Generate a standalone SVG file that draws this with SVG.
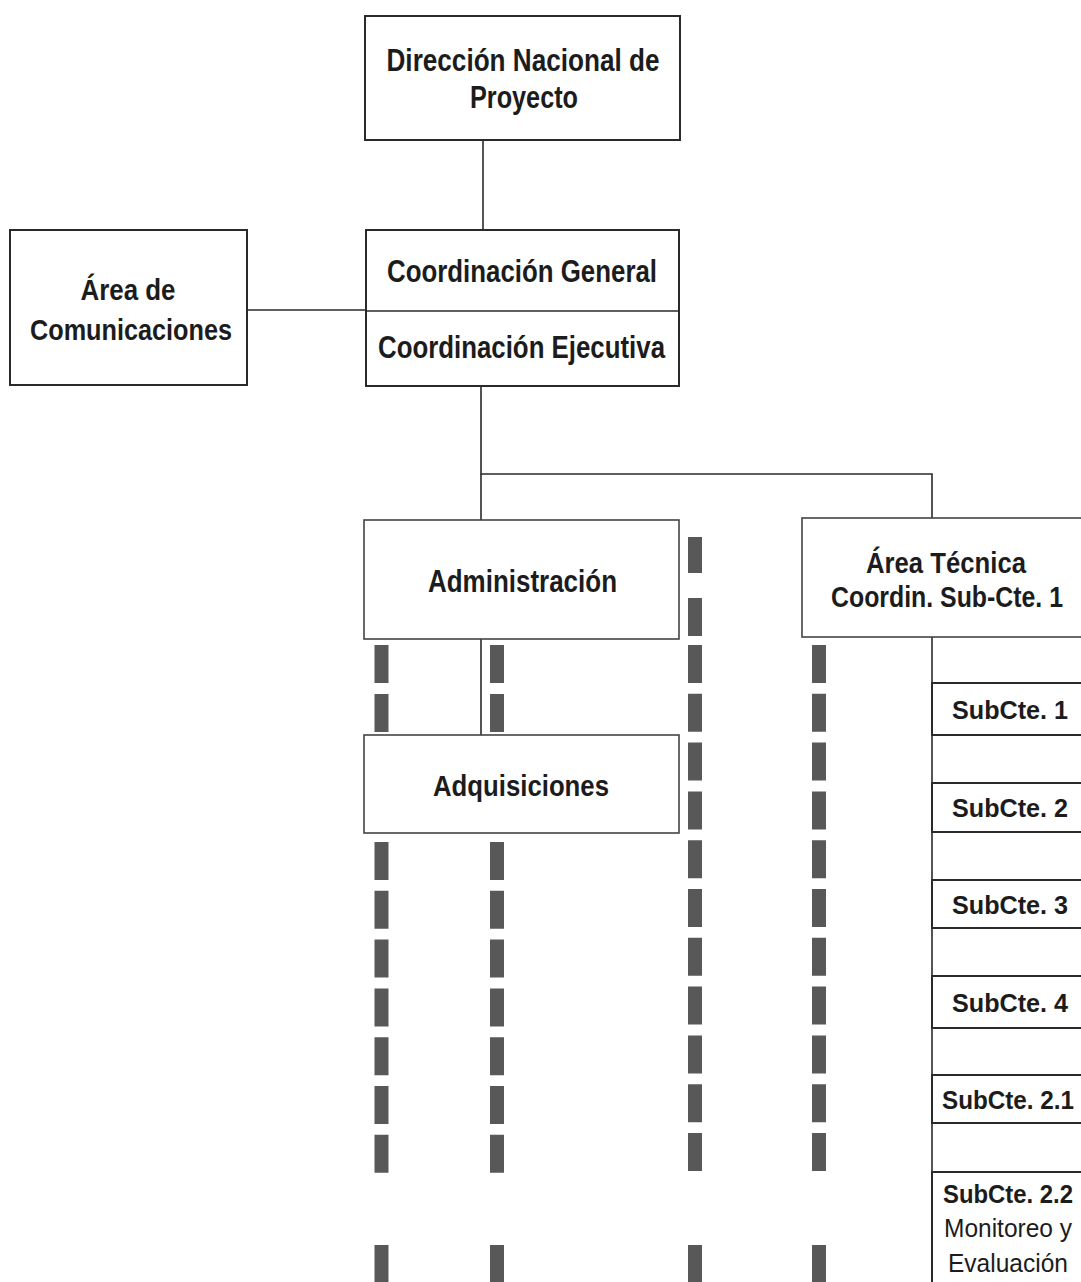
<svg xmlns="http://www.w3.org/2000/svg" width="1081" height="1282" viewBox="0 0 1081 1282">
<style>
.box{fill:#fff;stroke:#2a2a2a;stroke-width:2}
.lite{stroke:#444;stroke-width:1.6}
.t{font-family:"Liberation Sans",Arial,sans-serif;font-weight:bold;fill:#1c1c1c;text-anchor:middle}
.r{font-family:"Liberation Sans",Arial,sans-serif;font-weight:normal;fill:#1c1c1c;text-anchor:middle}
.c{stroke:#2a2a2a;stroke-width:1.6;fill:none}
.d{stroke:#585858;stroke-width:14;fill:none}
</style>
<rect width="1081" height="1282" fill="#fff"/>
<g id="connectors">
<line class="c" x1="483" y1="140" x2="483" y2="230"/>
<line class="c" x1="247" y1="310" x2="366" y2="310"/>
<polyline class="c" points="481,386 481,474 932,474 932,518"/>
<line class="c" x1="481" y1="474" x2="481" y2="520"/>
<line class="c" x1="481" y1="639" x2="481" y2="735"/>
<line class="c" x1="932" y1="637" x2="932" y2="1282"/>
</g>
<g id="dashed-columns">
<line class="d" x1="381.5" y1="645" x2="381.5" y2="733" stroke-dasharray="38 11"/>
<line class="d" x1="381.5" y1="842" x2="381.5" y2="1173" stroke-dasharray="38 10.8"/>
<line class="d" x1="381.5" y1="1245" x2="381.5" y2="1282"/>
<line class="d" x1="497" y1="645" x2="497" y2="733" stroke-dasharray="38 11"/>
<line class="d" x1="497" y1="842" x2="497" y2="1173" stroke-dasharray="38 10.8"/>
<line class="d" x1="497" y1="1245" x2="497" y2="1282"/>
<line class="d" x1="695" y1="537" x2="695" y2="573"/>
<line class="d" x1="695" y1="598" x2="695" y2="636"/>
<line class="d" x1="695" y1="645" x2="695" y2="1172" stroke-dasharray="38 10.8"/>
<line class="d" x1="695" y1="1245" x2="695" y2="1282"/>
<line class="d" x1="819" y1="645" x2="819" y2="1172" stroke-dasharray="38 10.8"/>
<line class="d" x1="819" y1="1245" x2="819" y2="1282"/>
</g>
<g id="direccion">
<rect class="box" x="365" y="16" width="315" height="124"/>
<text class="t" x="523" y="71" font-size="32" textLength="273" lengthAdjust="spacingAndGlyphs">Dirección Nacional de</text>
<text class="t" x="524" y="108" font-size="32" textLength="108" lengthAdjust="spacingAndGlyphs">Proyecto</text>
</g>
<g id="coordinacion">
<rect class="box" x="366" y="230" width="313" height="156"/>
<line class="c" x1="366" y1="311" x2="679" y2="311" stroke-width="2"/>
<text class="t" x="522" y="282" font-size="32" textLength="270" lengthAdjust="spacingAndGlyphs">Coordinación General</text>
<text class="t" x="521.5" y="358" font-size="32" textLength="287" lengthAdjust="spacingAndGlyphs">Coordinación Ejecutiva</text>
</g>
<g id="comunicaciones">
<rect class="box" x="10" y="230" width="237" height="155"/>
<text class="t" x="128" y="300" font-size="30" textLength="95" lengthAdjust="spacingAndGlyphs">Área de</text>
<text class="t" x="131" y="340" font-size="30" textLength="202" lengthAdjust="spacingAndGlyphs">Comunicaciones</text>
</g>
<g id="administracion">
<rect class="box lite" x="364" y="520" width="315" height="119"/>
<text class="t" x="522.5" y="592" font-size="31" textLength="189" lengthAdjust="spacingAndGlyphs">Administración</text>
</g>
<g id="adquisiciones">
<rect class="box lite" x="364" y="735" width="315" height="98"/>
<text class="t" x="521" y="796" font-size="30" textLength="176" lengthAdjust="spacingAndGlyphs">Adquisiciones</text>
</g>
<g id="area-tecnica">
<rect class="box lite" x="802" y="518" width="290" height="119"/>
<text class="t" x="946" y="573" font-size="29" textLength="160" lengthAdjust="spacingAndGlyphs">Área Técnica</text>
<text class="t" x="947" y="607" font-size="29" textLength="232" lengthAdjust="spacingAndGlyphs">Coordin. Sub-Cte. 1</text>
</g>
<g id="subcte-1">
<rect class="box" x="932" y="683" width="160" height="52"/>
<text class="t" x="1010" y="719" font-size="26" textLength="116" lengthAdjust="spacingAndGlyphs">SubCte. 1</text>
</g>
<g id="subcte-2">
<rect class="box" x="932" y="783" width="160" height="49"/>
<text class="t" x="1010" y="817" font-size="26" textLength="116" lengthAdjust="spacingAndGlyphs">SubCte. 2</text>
</g>
<g id="subcte-3">
<rect class="box" x="932" y="880" width="160" height="48"/>
<text class="t" x="1010" y="914" font-size="26" textLength="116" lengthAdjust="spacingAndGlyphs">SubCte. 3</text>
</g>
<g id="subcte-4">
<rect class="box" x="932" y="976" width="160" height="52"/>
<text class="t" x="1010" y="1012" font-size="26" textLength="116" lengthAdjust="spacingAndGlyphs">SubCte. 4</text>
</g>
<g id="subcte-2-1">
<rect class="box" x="932" y="1075" width="160" height="48"/>
<text class="t" x="1008" y="1109" font-size="26" textLength="132" lengthAdjust="spacingAndGlyphs">SubCte. 2.1</text>
</g>
<g id="subcte-2-2">
<rect class="box" x="932" y="1172" width="160" height="130"/>
<text class="t" x="1008" y="1203" font-size="26" textLength="130" lengthAdjust="spacingAndGlyphs">SubCte. 2.2</text>
<text class="r" x="1008" y="1237" font-size="26" textLength="128" lengthAdjust="spacingAndGlyphs">Monitoreo y</text>
<text class="r" x="1008" y="1272" font-size="26" textLength="120" lengthAdjust="spacingAndGlyphs">Evaluación</text>
</g>
</svg>
